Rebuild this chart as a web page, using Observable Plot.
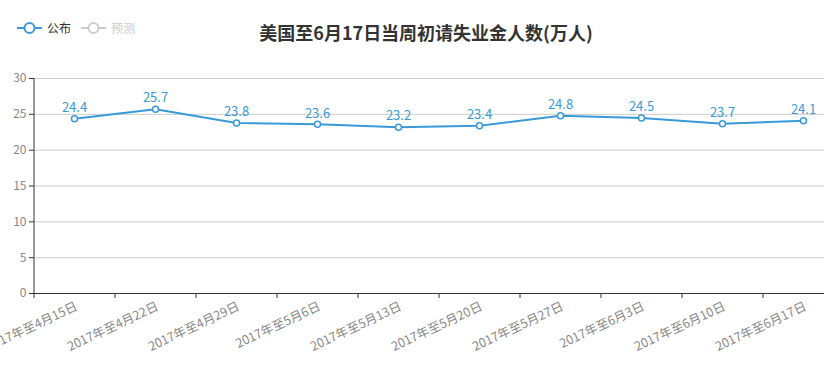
<!DOCTYPE html>
<html><head><meta charset="utf-8">
<script src="https://cdn.jsdelivr.net/npm/d3@7"></script>
<script src="https://cdn.jsdelivr.net/npm/@observablehq/plot@0.6"></script>
<style>
body{margin:0;background:#fff;font-family:"Noto Sans CJK SC","Noto Sans",sans-serif;overflow:hidden;}
#wrap{position:relative;width:824px;height:377px;overflow:hidden;}
#title{position:absolute;left:0;width:852px;top:19px;text-align:center;font-size:18px;font-weight:bold;color:#333;line-height:26px;}
.leg{position:absolute;top:20px;font-size:12px;line-height:16px;display:flex;align-items:center;}
#chart{position:absolute;left:0;top:60px;}
</style></head>
<body><div id="wrap">
<div id="title"></div>
<div id="legend"></div>
<div id="chart"></div>
</div>
<script>
const title = "美国至6月17日当周初请失业金人数(万人)";
const categories = ["2017年至4月15日","2017年至4月22日","2017年至4月29日","2017年至5月6日","2017年至5月13日","2017年至5月20日","2017年至5月27日","2017年至6月3日","2017年至6月10日","2017年至6月17日"];
const values = [24.4, 25.7, 23.8, 23.6, 23.2, 23.4, 24.8, 24.5, 23.7, 24.1];
const yTicks = [0, 5, 10, 15, 20, 25, 30];
const legendItems = [{name:"公布", color:"#3a9ad9", text:"#333"}, {name:"预测", color:"#ccc", text:"#ccc"}];

document.getElementById("title").textContent = title;
const leg = document.getElementById("legend");
let lx = 17;
legendItems.forEach(it => {
  const d = document.createElement("div");
  d.className = "leg";
  d.style.left = lx + "px";
  d.innerHTML = `<svg width="25" height="14"><line x1="0" x2="25" y1="7" y2="7" stroke="${it.color}" stroke-width="2"/><circle cx="12.5" cy="7" r="5" fill="#fff" stroke="${it.color}" stroke-width="2"/></svg><span style="margin-left:5px;color:${it.text}">${it.name}</span>`;
  leg.appendChild(d);
  lx += 64;
});

const data = categories.map((c, i) => ({c, i: i + 0.5, v: values[i]}));
const lineColor = "#3a9ad9";

const chart = Plot.plot({
  width: 824,
  height: 317,
  marginLeft: 34,
  marginRight: 0,
  marginTop: 18,
  marginBottom: 84,
  style: {fontFamily: '"Noto Sans CJK SC","Noto Sans",sans-serif', fontSize: "12px", overflow: "hidden"},
  x: {type: "linear", domain: [0, 10], range: [33.5, 843.5]},
  y: {domain: [0, 30], ticks: yTicks},
  marks: [
    Plot.gridY(yTicks, {stroke: "#ccc", strokeOpacity: 1}),
    Plot.axisY(yTicks, {tickSize: 5, tickPadding: 3, stroke: "#333", fill: "#888", fontSize: 12, label: null}),
    Plot.axisX(d3.range(0, 11), {tickSize: 5, tickFormat: () => "", stroke: "#333", label: null}),
    Plot.ruleY([0], {stroke: "#333", strokeWidth: 1}),
    Plot.ruleX([0], {stroke: "#333", strokeWidth: 1}),
    Plot.text(data, {x: "i", y: 0, text: "c", textAnchor: "end", lineAnchor: "top", rotate: -25, dx: 0, dy: 8, fill: "#888", fontSize: 12.5}),
    Plot.line(data, {x: "i", y: "v", stroke: lineColor, strokeWidth: 2}),
    Plot.dot(data, {x: "i", y: "v", r: 3, fill: "#fff", stroke: lineColor, strokeWidth: 1.5}),
    Plot.text(data, {x: "i", y: "v", text: d => d.v.toFixed(1), dy: -11, fill: lineColor, fontSize: 13})
  ]
});
document.getElementById("chart").appendChild(chart);
</script>
</body></html>
